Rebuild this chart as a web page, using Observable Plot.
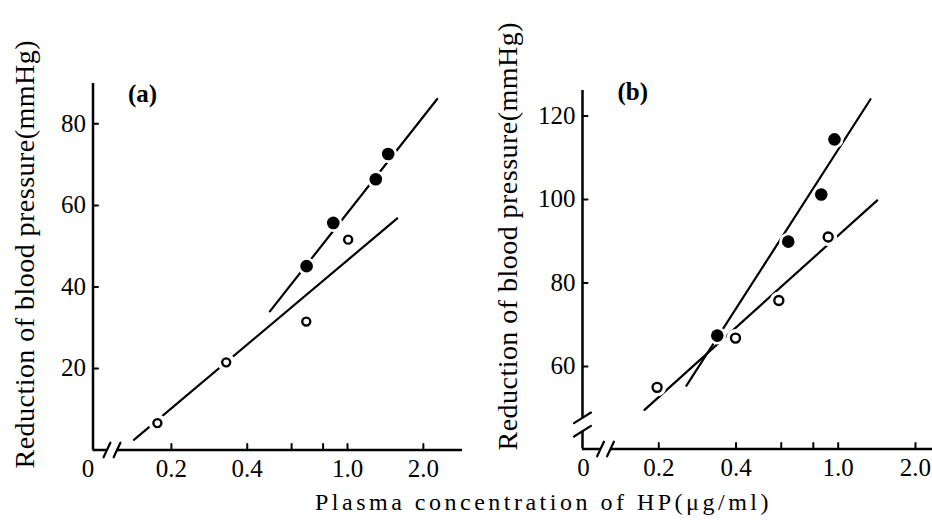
<!DOCTYPE html>
<html><head><meta charset="utf-8">
<script src="https://cdn.jsdelivr.net/npm/d3@7"></script>
<script src="https://cdn.jsdelivr.net/npm/@observablehq/plot@0.6"></script>
<style>
body{margin:0;background:#fff;}
#wrap{position:relative;width:932px;height:521px;font-family:"Liberation Serif",serif;background:#fff;overflow:hidden;}
#pa,#pb{position:absolute;top:0;}
#pa{left:0;} #pb{left:466px;}
#xtitle{position:absolute;left:315px;top:490px;font-size:24px;line-height:24px;letter-spacing:3.5px;white-space:nowrap;color:#000;}
</style></head><body>
<div id="wrap"><div id="pa"></div><div id="pb"></div><div id="xtitle"></div></div>
<script>
// ---------- data ----------
const xTitle = "Plasma concentration of HP(\u03bcg/ml)";
const yTitle = "Reduction of blood pressure(mmHg)";
const panelLabels = ["(a)", "(b)"];
const xTickValues = [0.2, 0.4, 1, 2];
const xTickLabels = ["0.2", "0.4", "1.0", "2.0"];
const xTickMarks = [0.2, 0.4, 0.6, 0.8, 1, 2];
const originLabel = "0";

// panel (a)
const aYTicks = [20, 40, 60, 80];
const aXDomain = [0.0977, 2.86];
const aYDomain = [0, 89.9];
const aXBreak = [0.111, 0.1217];
const aOpenX = [0.176, 0.330, 0.686, 1.006];
const aOpenY = [6.6, 21.5, 31.5, 51.6];
const aFillX = [0.688, 0.878, 1.295, 1.45];
const aFillY = [45.1, 55.7, 66.4, 72.6];
const aOpenLineX = [0.142, 1.575];
const aOpenLineY = [2.5, 56.8];
const aFillLineX = [0.492, 2.27];
const aFillLineY = [34.0, 86.1];

// panel (b)
const bYTicks = [60, 80, 100, 120];
const bXDomain = [0.1009, 2.33];
const bYDomain = [40.24, 126.1];
const bXBreak = [0.1186, 0.1297];
const bYBreak = [44.5, 47.7];
const bOpenX = [0.197, 0.398, 0.587, 0.914];
const bOpenY = [55.0, 66.8, 75.8, 91.0];
const bFillX = [0.338, 0.639, 0.859, 0.967];
const bFillY = [67.4, 89.9, 101.2, 114.4];
const bOpenLineX = [0.176, 1.419];
const bOpenLineY = [49.6, 99.8];
const bFillLineX = [0.2564, 1.336];
const bFillLineY = [55.4, 124.0];

// ---------- helpers ----------
const pts = (xs, ys) => xs.map((x, i) => ({x, y: ys[i]}));
const seg = {draw(ctx, l) { ctx.moveTo(0, 0); ctx.lineTo(0, -l); }};
const fmt = d => xTickLabels[xTickValues.indexOf(d)];

function panel(o) {
  const open = pts(o.openX, o.openY), fill = pts(o.fillX, o.fillY);
  const axisW = 2.5;
  const marks = [];
  // y-axis line
  if (o.yBreak) {
    marks.push(Plot.ruleX([o.xDomain[0]], {y1: o.yDomain[0], y2: o.yBreak[0], strokeWidth: axisW}));
    marks.push(Plot.ruleX([o.xDomain[0]], {y1: o.yBreak[1], y2: o.yDomain[1], strokeWidth: axisW}));
    marks.push(Plot.vector(o.yBreak, {x: o.xDomain[0], y: d => d, length: 20, rotate: 58, anchor: "middle", shape: seg, stroke: "black", strokeWidth: 2.2}));
  } else {
    marks.push(Plot.ruleX([o.xDomain[0]], {strokeWidth: axisW}));
  }
  // x-axis line with break
  marks.push(Plot.ruleY([o.yDomain[0]], {x1: o.xDomain[0], x2: o.xBreak[0], strokeWidth: axisW}));
  marks.push(Plot.ruleY([o.yDomain[0]], {x1: o.xBreak[1], x2: o.xDomain[1], strokeWidth: axisW}));
  marks.push(Plot.vector(o.xBreak, {x: d => d, y: o.yDomain[0], length: 16, rotate: 25, anchor: "middle", shape: seg, stroke: "black", strokeWidth: 2.2}));
  // inward ticks
  marks.push(Plot.vector(xTickMarks, {x: d => d, y: o.yDomain[0], length: 6, rotate: 0, anchor: "start", shape: seg, stroke: "black", strokeWidth: 2}));
  marks.push(Plot.vector(o.yTicks, {x: o.xDomain[0], y: d => d, length: 5, rotate: 90, anchor: "start", shape: seg, stroke: "black", strokeWidth: 2}));
  // tick labels
  marks.push(Plot.axisX(xTickValues, {tickSize: 0, tickPadding: 9, tickFormat: fmt, label: null, fontSize: 25}));
  marks.push(Plot.axisY(o.yTicks, {tickSize: 0, tickPadding: 7, label: null, fontSize: 25}));
  marks.push(Plot.text([originLabel], {frameAnchor: "bottom-left", textAnchor: "middle", lineAnchor: "top", dy: 9, dx: o.zeroDx, fontSize: 25}));
  // fitted lines
  marks.push(Plot.line(pts(o.openLineX, o.openLineY), {x: "x", y: "y", stroke: "black", strokeWidth: 2.2}));
  marks.push(Plot.line(pts(o.fillLineX, o.fillLineY), {x: "x", y: "y", stroke: "black", strokeWidth: 2.2}));
  // halos + points
  marks.push(Plot.dot(open.concat(fill), {x: "x", y: "y", r: 9, fill: "white"}));
  marks.push(Plot.dot(fill, {x: "x", y: "y", r: 6.3, fill: "black"}));
  marks.push(Plot.dot(open, {x: "x", y: "y", r: o.openR, fill: "white", stroke: "black", strokeWidth: 2.4}));
  // panel label
  marks.push(Plot.text([o.label], {frameAnchor: "top-left", textAnchor: "start", lineAnchor: "middle", dx: 35, dy: o.labelDy, fontSize: 25, fontWeight: "bold"}));
  // y title
  marks.push(Plot.text([yTitle], {frameAnchor: "left", textAnchor: "middle", lineAnchor: "middle", rotate: -90, dx: o.yTitleDx, dy: o.yTitleDy, fontSize: 28}));
  const svg = Plot.plot({
    width: 466, height: 480,
    marginLeft: o.ml, marginRight: o.mr, marginTop: o.mt, marginBottom: o.mb,
    style: {fontFamily: '"Liberation Serif", serif', fontSize: "25px", background: "white", color: "black", overflow: "visible"},
    x: {type: "log", domain: o.xDomain},
    y: {domain: o.yDomain},
    marks
  });
  svg.querySelectorAll("text").forEach(t => {
    if (t.textContent === yTitle) {
      t.setAttribute("textLength", 428);
      t.setAttribute("lengthAdjust", "spacing");
    }
  });
  return svg;
}

document.getElementById("pa").appendChild(panel({
  ml: 92.5, mr: 4, mt: 83, mb: 30.5,
  xDomain: aXDomain, yDomain: aYDomain, xBreak: aXBreak, yBreak: null, yTicks: aYTicks,
  openX: aOpenX, openY: aOpenY, fillX: aFillX, fillY: aFillY,
  openLineX: aOpenLineX, openLineY: aOpenLineY, fillLineX: aFillLineX, fillLineY: aFillLineY,
  openR: 4, zeroDx: -5, label: panelLabels[0], labelDy: 10,
  yTitleDx: -67.5, yTitleDy: -12.25
}));
document.getElementById("pb").appendChild(panel({
  ml: 116, mr: 0, mt: 90, mb: 31.5,
  xDomain: bXDomain, yDomain: bYDomain, xBreak: bXBreak, yBreak: bYBreak, yTicks: bYTicks,
  openX: bOpenX, openY: bOpenY, fillX: bFillX, fillY: bFillY,
  openLineX: bOpenLineX, openLineY: bOpenLineY, fillLineX: bFillLineX, fillLineY: bFillLineY,
  openR: 4.5, zeroDx: 1, label: panelLabels[1], labelDy: 1,
  yTitleDx: -74, yTitleDy: -33.25
}));
document.getElementById("xtitle").textContent = xTitle;
</script>
</body></html>
